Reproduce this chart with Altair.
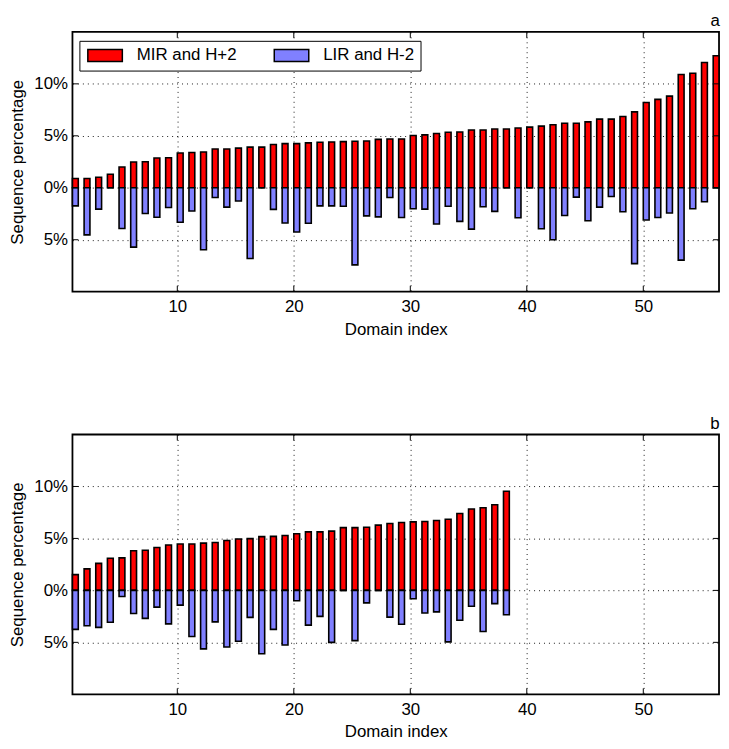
import altair as alt
import pandas as pd

# Panel a: 56 domains
a_mir = [0.9, 0.9, 1.02, 1.3, 2.0, 2.48, 2.5, 2.86, 2.89, 3.35,
         3.39, 3.45, 3.73, 3.73, 3.82, 3.91, 3.91, 4.16, 4.25, 4.25,
         4.32, 4.38, 4.41, 4.44, 4.47, 4.5, 4.66, 4.69, 4.69, 5.03,
         5.09, 5.22, 5.34, 5.37, 5.56, 5.56, 5.65, 5.65, 5.75, 5.84,
         5.93, 6.06, 6.21, 6.21, 6.34, 6.61, 6.61, 6.86, 7.3, 8.2,
         8.51, 8.82, 10.9, 11.02, 12.05, 12.7]
a_lir = [1.74, 4.53, 2.05, 0, 3.91, 5.71, 2.48, 2.83, 1.89, 3.32,
         2.24, 5.96, 0.93, 1.86, 1.27, 6.8, 0, 2.08, 3.39, 4.25,
         3.42, 1.74, 1.74, 1.77, 7.42, 2.7, 2.8, 0.93, 2.86, 2.02,
         2.05, 3.48, 1.77, 3.23, 3.98, 1.83, 2.27, 0, 2.89, 0,
         3.94, 5.0, 2.67, 0.9, 3.17, 1.86, 0.84, 2.3, 7.3, 3.1,
         2.86, 2.42, 6.96, 2.02, 1.34, 0]

# Panel b: 38 domains
b_mir = [1.52, 2.07, 2.6, 3.1, 3.13, 3.81, 3.87, 4.12, 4.37, 4.46,
         4.46, 4.55, 4.61, 4.8, 4.95, 4.98, 5.17, 5.2, 5.29, 5.45,
         5.63, 5.63, 5.7, 6.04, 6.04, 6.07, 6.28, 6.44, 6.53, 6.59,
         6.63, 6.72, 6.84, 7.4, 7.83, 7.96, 8.24, 9.54]
b_lir = [3.75, 3.4, 3.56, 3.07, 0.59, 2.23, 2.69, 1.61, 3.22, 1.42,
         4.43, 5.63, 3.03, 5.45, 4.89, 2.6, 6.1, 3.75, 5.26, 0.99,
         3.34, 2.5, 5.0, 0, 4.83, 1.2, 0, 2.57, 3.25, 0.8,
         2.17, 2.07, 4.95, 2.88, 1.52, 3.96, 1.27, 2.35]

series = ["MIR and H+2", "LIR and H-2"]
x_ticks = [10, 20, 30, 40, 50]
y_ticks = [-5, 0, 5, 10]
x_domain = [1, 56.5]
y_domain = [-10, 15]

W, H = 652, 262
FONT = "Liberation Sans"


def frame(mir, lir):
    rows = []
    for i, v in enumerate(mir):
        rows.append({"idx": i + 1, "val": v, "series": series[0]})
    for i, v in enumerate(lir):
        rows.append({"idx": i + 1, "val": -v, "series": series[1]})
    return pd.DataFrame(rows)


xt = pd.DataFrame({"t": x_ticks})
yt = pd.DataFrame({"t": y_ticks})


def panel(mir, lir, label):
    df = frame(mir, lir)
    xs = alt.Scale(domain=x_domain, nice=False, zero=False)
    ys = alt.Scale(domain=y_domain, nice=False)
    bars = alt.Chart(df).transform_calculate(
        idx2="datum.idx + 0.5"
    ).mark_bar(stroke="black", strokeWidth=1.6, opacity=1).encode(
        x=alt.X("idx:Q", scale=xs, title="Domain index",
                axis=alt.Axis(values=x_ticks, format="d")),
        x2="idx2:Q",
        y=alt.Y("val:Q", scale=ys, title="Sequence percentage",
                axis=alt.Axis(values=y_ticks,
                              labelExpr="abs(datum.value) + '%'")),
        y2=alt.datum(0),
        color=alt.Color(
            "series:N",
            scale=alt.Scale(domain=series, range=["#ff0000", "#8080ff"]),
            legend=alt.Legend(
                title=None, orient="none", legendX=7, legendY=9,
                direction="horizontal",
                strokeColor="black", fillColor="white", padding=6,
                symbolType="M-2.9,-1H2.9V1H-2.9Z", symbolSize=144,
                symbolOffset=11.4, labelOffset=23.5,
                symbolStrokeColor="black", symbolStrokeWidth=1.5,
                symbolOpacity=1,
                labelFontSize=17, labelFont=FONT, labelColor="black",
                columnPadding=34,
            ),
        ),
    )
    top_t = alt.Chart(xt).mark_rule(color="black", strokeWidth=1).encode(
        x=alt.X("t:Q", scale=xs), y=alt.value(0), y2=alt.value(6))
    bot_t = alt.Chart(xt).mark_rule(color="black", strokeWidth=1).encode(
        x=alt.X("t:Q", scale=xs), y=alt.value(H - 6), y2=alt.value(H))
    left_t = alt.Chart(yt).mark_rule(color="black", strokeWidth=1).encode(
        y=alt.Y("t:Q", scale=ys), x=alt.value(0), x2=alt.value(6))
    right_t = alt.Chart(yt).mark_rule(color="black", strokeWidth=1).encode(
        y=alt.Y("t:Q", scale=ys), x=alt.value(W - 6), x2=alt.value(W))
    return alt.layer(bars, top_t, bot_t, left_t, right_t).properties(
        width=W, height=H,
        title=alt.TitleParams(text=label, anchor="end", fontSize=17,
                              font=FONT, fontWeight="normal", offset=1,
                              color="black"),
    )


chart = alt.vconcat(
    panel(a_mir, a_lir, "a"),
    panel(b_mir, b_lir, "b"),
    spacing=76,
).resolve_scale(color="shared").properties(
    background="white", padding=0
).configure_view(
    stroke="black", strokeWidth=1.8
).configure_axis(
    domain=False, ticks=False, grid=True,
    gridColor="black", gridDash=[1, 4], gridWidth=1, gridOpacity=0.9,
    labelFont=FONT, labelFontSize=17, labelColor="black",
    titleFont=FONT, titleFontSize=17, titleFontWeight="normal",
    titleColor="black",
).configure_axisX(
    labelPadding=7, titlePadding=7,
).configure_axisY(
    labelPadding=5, titlePadding=7,
)

chart.save("out.html", embed_options={"renderer": "svg", "actions": False})
